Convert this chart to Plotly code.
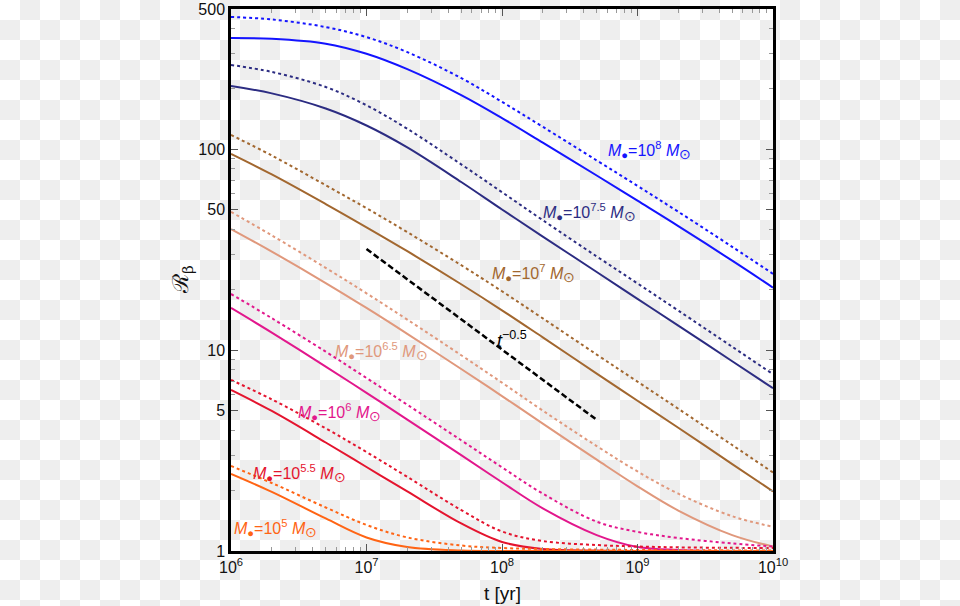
import base64
import plotly.graph_objects as go

# ---- data ----
t = [1e6, 2e6, 5e6, 1e7, 2e7, 5e7, 1e8, 2e8, 5e8, 1e9, 2e9, 5e9, 1e10]

r8_solid = [358.8, 355.5, 336.1, 299.3, 250.8, 186.4, 143.2, 108.0, 74.1, 55.5, 41.5, 27.9, 20.5]
r8_dot = [456.4, 443.5, 406.4, 362.1, 304.9, 226.5, 172.4, 129.5, 88.1, 65.8, 48.9, 32.7, 24.0]
r75_solid = [206.9, 190.0, 159.8, 131.5, 102.3, 68.8, 50.2, 36.8, 24.5, 18.0, 13.26, 8.81, 6.46]
r75_dot = [263.2, 243.0, 204.4, 165.8, 126.6, 84.2, 61.2, 44.4, 29.3, 21.5, 15.75, 10.40, 7.59]
r7_solid = [94.9, 75.0, 53.4, 40.9, 31.1, 21.3, 15.8, 11.58, 7.65, 5.60, 4.11, 2.71, 1.98]
r7_dot = [118.0, 93.2, 66.3, 50.9, 38.7, 26.5, 19.65, 14.40, 9.51, 6.97, 5.11, 3.37, 2.46]
r65_solid = [40.1, 30.97, 21.6, 16.23, 12.06, 8.06, 5.91, 4.31, 2.85, 2.10, 1.59, 1.200, 1.052]
r65_dot = [48.8, 37.3, 25.7, 19.2, 14.2, 9.44, 6.89, 5.00, 3.33, 2.49, 1.93, 1.49, 1.32]
r6_solid = [16.23, 12.23, 8.29, 6.13, 4.51, 3.00, 2.20, 1.63, 1.20, 1.047, 1.012, 1.0, 1.0]
r6_dot = [19.05, 14.43, 9.83, 7.27, 5.35, 3.56, 2.61, 1.93, 1.40, 1.245, 1.161, 1.091, 1.053]
r55_solid = [6.34, 4.98, 3.47, 2.62, 1.98, 1.371, 1.109, 1.023, 1.005, 1.0, 1.0, 1.0, 1.0]
r55_dot = [7.11, 5.69, 4.08, 3.11, 2.34, 1.60, 1.251, 1.121, 1.071, 1.053, 1.043, 1.037, 1.035]
r5_solid = [2.42, 1.97, 1.452, 1.168, 1.047, 1.006, 1.0, 1.0, 1.0, 1.0, 1.0, 1.0, 1.0]
r5_dot = [2.65, 2.18, 1.647, 1.348, 1.168, 1.065, 1.035, 1.023, 1.016, 1.012, 1.009, 1.007, 1.006]

slope_t = [1e7, 5e8]
slope_r = [31.9, 4.5]

x_tickvals = [1e6, 1e7, 1e8, 1e9, 1e10]
x_ticktext = ["10<sup>6</sup>", "10<sup>7</sup>", "10<sup>8</sup>", "10<sup>9</sup>", "10<sup>10</sup>"]
y_tickvals = [1, 5, 10, 50, 100, 500]
y_ticktext = ["1", "5", "10", "50", "100", "500"]

mass_labels = ["10<sup>8</sup>", "10<sup>7.5</sup>", "10<sup>7</sup>", "10<sup>6.5</sup>",
               "10<sup>6</sup>", "10<sup>5.5</sup>", "10<sup>5</sup>"]
colors = ["#1414ff", "#2c2c82", "#a2672f", "#e0987c", "#e2178c", "#e4142e", "#ff6414"]
label_x = [9.085, 8.649, 8.229, 7.107, 6.804, 6.509, 6.332]   # log10 t
label_y = [1.992, 1.688, 1.384, 0.991, 0.692, 0.388, 0.110]   # log10 R

solids = [r8_solid, r75_solid, r7_solid, r65_solid, r6_solid, r55_solid, r5_solid]
dots = [r8_dot, r75_dot, r7_dot, r65_dot, r6_dot, r55_dot, r5_dot]

fig = go.Figure()
for sol, dot, c in zip(solids, dots, colors):
    fig.add_trace(go.Scatter(x=t, y=dot, mode="lines",
                             line=dict(color=c, width=2, dash="dot", shape="spline", smoothing=1.0),
                             showlegend=False, hoverinfo="skip"))
    fig.add_trace(go.Scatter(x=t, y=sol, mode="lines",
                             line=dict(color=c, width=2, shape="spline", smoothing=1.0),
                             showlegend=False, hoverinfo="skip"))

fig.add_trace(go.Scatter(x=slope_t, y=slope_r, mode="lines",
                         line=dict(color="black", width=2.5, dash="6px,3px"),
                         showlegend=False, hoverinfo="skip"))

# checkerboard backdrop (transparency pattern of the reference)
svg = ("<svg xmlns='http://www.w3.org/2000/svg' width='960' height='606'>"
       "<defs><pattern id='p' width='40' height='40' patternUnits='userSpaceOnUse'>"
       "<rect width='40' height='40' fill='#ffffff'/>"
       "<rect x='20' y='0' width='20' height='20' fill='#eeeeee'/>"
       "<rect x='0' y='20' width='20' height='20' fill='#eeeeee'/>"
       "</pattern></defs><rect width='960' height='606' fill='url(#p)'/></svg>")
src = "data:image/svg+xml;base64," + base64.b64encode(svg.encode()).decode()

L, R, T, B = 231, 187, 9, 55
W, H = 960 - L - R, 606 - T - B
fig.add_layout_image(dict(source=src, xref="paper", yref="paper",
                          x=-L / W, y=1 + T / H, sizex=960 / W, sizey=606 / H,
                          xanchor="left", yanchor="top", sizing="stretch", layer="below"))

font = "Liberation Sans, Arial, sans-serif"
for lab, c, lx, ly in zip(mass_labels, colors, label_x, label_y):
    fig.add_annotation(x=lx, y=ly, xref="x", yref="y", showarrow=False,
                       xanchor="center", yanchor="middle",
                       text=("<i>M</i><sub>\u25cf</sub>=" + lab +
                             " <i>M</i><sub><span style='font-size:14px'>\u2299</span></sub>"),
                       font=dict(family=font, size=16, color=c))

fig.add_annotation(x=8.074, y=1.051, xref="x", yref="y", showarrow=False,
                   xanchor="center", yanchor="middle",
                   text="<i>t</i><sup>\u22120.5</sup>", font=dict(family=font, size=18, color="black"))

fig.add_annotation(x=0.5, y=(551 - 593) / H, xref="paper", yref="paper", showarrow=False,
                   xanchor="center", yanchor="middle",
                   text="t [yr]", font=dict(family=font, size=19, color="#111"))
fig.add_annotation(x=(182 - L) / W, y=(551 - 280) / H, xref="paper", yref="paper", showarrow=False,
                   xanchor="center", yanchor="middle",
                   text="\u211b<sub>\u03b2</sub>", textangle=-90,
                   font=dict(family="DejaVu Serif, serif", size=22, color="#111"))

x_minor = [k * 10 ** n for n in range(6, 10) for k in range(2, 10)]
y_minor = [k * 10 ** n for n in range(0, 3) for k in range(2, 10) if k != 5 and k * 10 ** n < 500]

axis_common = dict(showline=True, linecolor="black", linewidth=2.5, mirror="allticks",
                   ticks="inside", ticklen=7, tickcolor="#555", tickwidth=1,
                   showgrid=False, zeroline=False, automargin=False,
                   tickfont=dict(family=font, size=16, color="#111"))

fig.update_xaxes(type="log", range=[6, 10], tickmode="array", tickvals=x_tickvals,
                 ticktext=x_ticktext,
                 minor=dict(tickmode="array", tickvals=x_minor, ticks="inside", ticklen=4,
                            tickcolor="#999", showgrid=False),
                 **axis_common)
fig.update_yaxes(type="log", range=[0, 2.69897], tickmode="array", tickvals=y_tickvals,
                 ticktext=y_ticktext,
                 minor=dict(tickmode="array", tickvals=y_minor, ticks="inside", ticklen=4,
                            tickcolor="#999", showgrid=False),
                 **axis_common)

fig.update_layout(width=960, height=606,
                  margin=dict(l=L, r=R, t=T, b=B, pad=0, autoexpand=False),
                  paper_bgcolor="white", plot_bgcolor="rgba(0,0,0,0)",
                  showlegend=False)

fig.write_html("out.html", config={"displayModeBar": False},
               post_script="document.body.style.margin='0px';document.body.style.overflow='hidden';")
